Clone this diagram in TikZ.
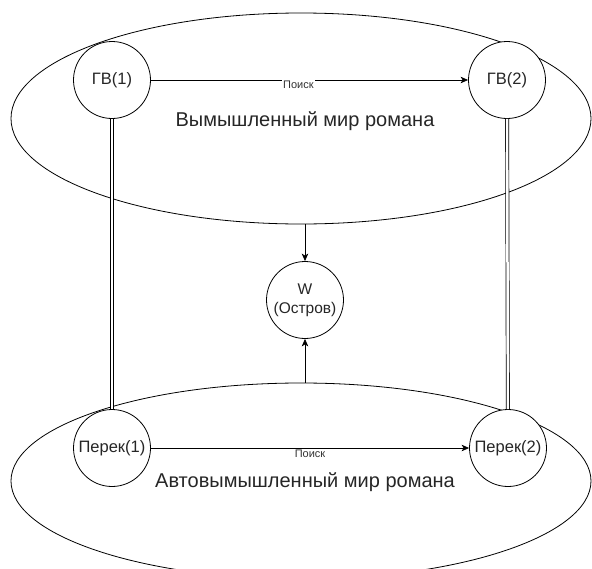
\documentclass[tikz,border=0pt]{standalone}
\usepackage{fontspec}
\setmainfont{Liberation Sans}
\usetikzlibrary{arrows.meta,shapes.geometric}
\begin{document}
\begin{tikzpicture}[x=1pt,y=-1pt,
  line width=0.8pt,
  world/.style={draw, ellipse, inner sep=0pt, minimum width=580pt},
  state/.style={draw, circle, fill=white, minimum size=77pt, inner sep=0pt,
    font=\fontsize{16.5}{19.5}\selectfont, text=black!85},
  biglabel/.style={font=\fontsize{20}{23}\selectfont, text=black!85, inner sep=0pt},
  arrowline/.style={-{Stealth[length=7.5pt,width=6.5pt,inset=2pt]}},
  linkline/.style={double, double distance=2.5pt, line width=0.7pt},
  searchlabel/.style={fill=white, inner sep=1pt, font=\fontsize{11}{13}\selectfont, text=black!80}]
\useasboundingbox (0,0) rectangle (592,568);
\clip (0,0) rectangle (592,568);
% worlds
\node[world, minimum height=211pt] (topw) at (301,118.5) {};
\node[world, minimum height=196pt] (botw) at (301,481) {};
% nodes
\node[state] (gv1) at (112,80) {ГВ(1)};
\node[state] (gv2) at (507,80) {ГВ(2)};
\node[state] (pk1) at (112,448) {Перек(1)};
\node[state] (pk2) at (508,448) {Перек(2)};
\node[state, align=center, font=\fontsize{15.5}{19}\selectfont] (w) at (305,300) {W\\(Остров)};
\node[biglabel] (toplab) at (305,121) {Вымышленный мир романа};
\node[biglabel] (botlab) at (305,482) {Автовымышленный мир романа};
% connectors
\draw[linkline] (gv1) -- (pk1);
\draw[linkline] (gv2) -- (pk2);
\draw[arrowline] (gv1) -- node[searchlabel, pos=0.465, yshift=-5pt] (s1) {Поиск} (gv2);
\draw[arrowline] (pk1) -- node[searchlabel, pos=0.5, yshift=-6pt] (s2) {Поиск} (pk2);
\draw[arrowline] (w |- topw.south) -- (w);
\draw[arrowline] (w |- botw.north) -- (w);
\end{tikzpicture}
\end{document}
